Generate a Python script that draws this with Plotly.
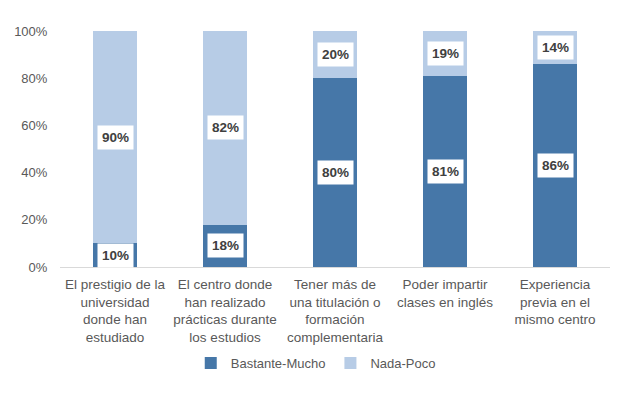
import plotly.graph_objects as go

categories = [
    "El prestigio de la<br>universidad<br>donde han<br>estudiado",
    "El centro donde<br>han realizado<br>prácticas durante<br>los estudios",
    "Tener más de<br>una titulación o<br>formación<br>complementaria",
    "Poder impartir<br>clases en inglés",
    "Experiencia<br>previa en el<br>mismo centro",
]
bastante_mucho = [10, 18, 80, 81, 86]
nada_poco = [90, 82, 20, 19, 14]
y_ticks = [0, 20, 40, 60, 80, 100]
y_tick_labels = ["0%", "20%", "40%", "60%", "80%", "100%"]

DARK = "#4677A8"
LIGHT = "#B7CCE6"
FONT = "Liberation Sans, Arial, sans-serif"

fig = go.Figure()
fig.add_trace(go.Bar(x=categories, y=bastante_mucho, name="Bastante-Mucho",
                     marker=dict(color=DARK, line=dict(width=0)), width=0.4))
fig.add_trace(go.Bar(x=categories, y=nada_poco, name="Nada-Poco",
                     marker=dict(color=LIGHT, line=dict(width=0)), width=0.4))

annotations = []
for c, a, b in zip(categories, bastante_mucho, nada_poco):
    for val, mid in ((a, a / 2), (b, a + b / 2)):
        annotations.append(dict(
            x=c, y=mid, xref="x", yref="y", text=f"<b>{val}%</b>", showarrow=False,
            bgcolor="white", borderpad=4,
            font=dict(family=FONT, size=13.5, color="#404040"),
        ))

fig.update_layout(
    barmode="stack",
    width=611, height=386,
    margin=dict(l=52, r=9, t=23, b=127),
    paper_bgcolor="white", plot_bgcolor="white",
    font=dict(family=FONT, size=13, color="#595959"),
    annotations=annotations,
    legend=dict(orientation="h", x=0.465, xanchor="center", y=-0.407, yanchor="middle",
                font=dict(family=FONT, size=13, color="#595959"), itemwidth=30,
                traceorder="normal"),
    showlegend=True,
)
fig.update_xaxes(showline=True, linecolor="#D9D9D9", linewidth=1, ticks="outside",
                 ticklen=5, tickcolor="rgba(0,0,0,0)", automargin=False,
                 tickfont=dict(family=FONT, size=13.5, color="#595959"), tickangle=0)
fig.update_yaxes(range=[0, 100], tickmode="array", tickvals=y_ticks, ticktext=y_tick_labels,
                 showgrid=False, zeroline=False, showline=False, automargin=False,
                 ticks="outside", ticklen=9, tickcolor="rgba(0,0,0,0)",
                 tickfont=dict(family=FONT, size=13, color="#595959"))

fig.write_html("out.html")
